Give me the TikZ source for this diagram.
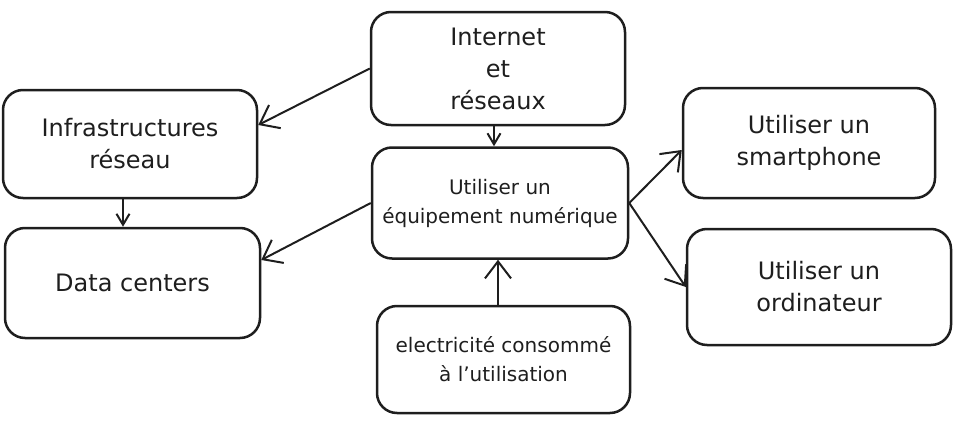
\documentclass[tikz,border=0pt]{standalone}
\usepackage{fontspec}
\setmainfont{DejaVu Sans}
\usetikzlibrary{arrows.meta,calc}
\definecolor{ink}{HTML}{1E1E1E}
\begin{document}
\begin{tikzpicture}[x=1pt,y=-1pt,
  box/.style={draw=ink, line width=2.5pt, rounded corners=20pt, align=center, text=ink, inner sep=0pt},
  big/.style={font=\fontsize{24}{32}\selectfont},
  small/.style={font=\fontsize{20}{29}\selectfont},
  arr/.style={draw=ink, line width=2pt, -{Straight Barb[length=17pt,width=26pt,line width=2pt]}},
  sarr/.style={draw=ink, line width=2pt, -{Straight Barb[length=11pt,width=13pt,line width=2pt]}}]
\useasboundingbox (0,0) rectangle (959,423);

\node[box,big,minimum width=254pt,minimum height=113pt] (inet) at (498,68.5) {Internet\\et\\réseaux};
\node[box,big,minimum width=254pt,minimum height=108pt] (infra) at (130,144) {Infrastructures\\réseau};
\node[box,big,minimum width=255pt,minimum height=110pt] (dc) at (132.5,283) {Data centers};
\node[box,small,minimum width=256pt,minimum height=111pt] (equip) at (500,203) {Utiliser un\\équipement numérique};
\node[box,small,minimum width=253pt,minimum height=107pt] (elec) at (503.5,359.5) {electricité consommé\\à l'utilisation};
\node[box,big,minimum width=252pt,minimum height=110pt] (smart) at (809,143) {Utiliser un\\smartphone};
\node[box,big,minimum width=264pt,minimum height=116pt] (ordi) at (819,287) {Utiliser un\\ordinateur};

\coordinate (a1) at ([xshift=-4pt]inet.south);
\coordinate (a2) at ([xshift=-7pt]infra.south);
\coordinate (a3) at ([xshift=-5.5pt]elec.north);

\draw[arr] (inet.west) -- ([yshift=19pt]infra.east);
\draw[sarr] (a1) -- (a1 |- equip.north);
\draw[sarr] (a2) -- (a2 |- dc.north);
\draw[arr] (equip.west) -- ([yshift=23pt]dc.east);
\draw[arr] (a3) -- (a3 |- equip.south);
\draw[arr] (equip.east) -- ([yshift=-7pt]smart.west);
\draw[arr] (equip.east) -- (ordi.west);
\end{tikzpicture}
\end{document}
